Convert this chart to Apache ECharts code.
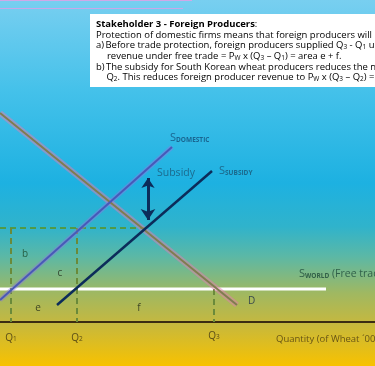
<!DOCTYPE html>
<html><head><meta charset="utf-8">
<script src="https://cdn.jsdelivr.net/npm/echarts@6/dist/echarts.min.js"></script>
<style>html,body{margin:0;padding:0;background:#fff}#c{width:375px;height:366px;}</style>
</head><body><div id="c"></div>
<script>
// ---- Data (chart units: x = quantity, y = price, origin on the quantity axis) ----
const quantityLabels = ['Q1', 'Q2', 'Q3'];
const quantityValues = [11, 77, 214];
const demand = [[0, 209], [237, 17]];
const sDomestic = [[0, 22], [172, 175]];
const sSubsidy = [[57, 17], [212, 151]];
const sWorld = [[0, 33], [326, 33]];
const subsidyPriceLine = [[0, 94], [145, 94]];
const q1Line = [[11, 94], [11, 0]];
const q2Line = [[77, 94], [77, 0]];
const q3Line = [[214, 33], [214, 0]];
const subsidyArrow = [[148, 144], [148, 102]];
const areaNames = ['b', 'c', 'e', 'f'];
const areaPoints = [[25, 68], [60, 49], [38, 14], [139, 14]];
const quantityLabelY = [-15, -15, -13];

const FF = '"Open Sans", "Noto Sans", sans-serif';
const chart = echarts.init(document.getElementById('c'), null, {renderer: 'canvas'});

function lineSeries(data, color, width, type, z) {
  return {type: 'line', data: data, symbol: 'none', silent: true, z: z || 2,
    lineStyle: {color: color, width: width, type: type || 'solid'}, animation: false};
}

// text box lines
const BF = 9.5;
const ctx = document.createElement('canvas').getContext('2d');
ctx.font = BF + 'px "Open Sans"';
const line2 = 'Protection of domestic firms means that foreign producers will';
const sx = 276 / ctx.measureText(line2).width;

const rich = {
  n: {fontSize: BF, fontFamily: FF, color: '#151515', lineHeight: 11, verticalAlign: 'bottom'},
  bd: {fontSize: BF, fontFamily: FF, fontWeight: 'bold', color: '#151515', lineHeight: 11, verticalAlign: 'bottom'},
  sb: {fontSize: 6.5, fontFamily: FF, color: '#151515', lineHeight: 5, verticalAlign: 'bottom'}
};
function tl(x, y, text) {
  return {type: 'text', x: x / sx, y: y, style: {text: text, rich: rich, verticalAlign: 'middle', align: 'left'}};
}
const boxTexts = [
  tl(0, 24, '{bd|Stakeholder 3 - Foreign Producers}{n|:}'),
  tl(0, 34.6, '{n|Protection of domestic firms means that foreign producers will l}'),
  tl(0, 45.2, '{n|a)}'),
  tl(9.5, 45.2, '{n|Before trade protection, foreign producers supplied Q}{sb|3}{n| - Q}{sb|1}{n| u}'),
  tl(11, 55.8, '{n|revenue under free trade = P}{sb|W}{n| x (Q}{sb|3}{n| \u2013 Q}{sb|1}{n|) = area e + f.}'),
  tl(0, 66.4, '{n|b)}'),
  tl(10, 66.4, '{n|The subsidy for South Korean wheat producers reduces the n}'),
  tl(10.5, 77, '{n|Q}{sb|2}{n|. This reduces foreign producer revenue to P}{sb|W}{n| x (Q}{sb|3}{n| \u2013 Q}{sb|2}{n|) =}')
];

const annRich = {
  S: {fontSize: 11, fontFamily: FF, lineHeight: 13, verticalAlign: 'bottom'},
  sc: {fontSize: 6.5, fontFamily: FF, fontWeight: 'bold', lineHeight: 7, verticalAlign: 'bottom'},
  t: {fontSize: 10.5, fontFamily: FF, lineHeight: 13, verticalAlign: 'bottom'},
  q: {fontSize: 10, fontFamily: FF, color: '#3a3010', lineHeight: 12, verticalAlign: 'bottom'},
  qs: {fontSize: 6.5, fontFamily: FF, color: '#3a3010', lineHeight: 6, verticalAlign: 'bottom'}
};
function ann(pt, text, color, fs) {
  return {value: pt, label: {show: true, position: 'right', distance: 0, formatter: text, color: color,
    fontSize: fs || 11, fontFamily: FF, rich: annRich}};
}
function center(pt, text, color, fs) {
  return {value: pt, label: {show: true, position: 'inside', formatter: text, color: color,
    fontSize: fs || 10, fontFamily: FF, rich: annRich}};
}

const annotations = [
  ann([170, 185], '{S|S}{sc|DOMESTIC}', '#14507a'),
  ann([157, 149], 'Subsidy', '#1a5878', 10.5),
  ann([219, 152], '{S|S}{sc|SUBSIDY}', '#1a5878'),
  ann([248, 21], 'D', '#1a2a4a', 10),
  ann([299, 49], '{S|S}{sc|WORLD}{t| (Free trade)}', '#1e4a3a'),
  ann([276, -17], 'Quantity (of Wheat \u00b4000s)', '#4a3a10', 9.5)
];
areaNames.forEach((n, i) => annotations.push(center(areaPoints[i], n, i === 0 ? '#1a4a2a' : '#1e2618', 10)));
quantityLabels.forEach((q, i) => annotations.push(center([quantityValues[i], quantityLabelY[i]],
  '{q|' + q[0] + '}{qs|' + q.slice(1) + '}', '#3a3010', 10)));

const option = {
  animation: false,
  backgroundColor: {type: 'linear', x: 0, y: 0, x2: 0, y2: 1, colorStops: [
    {offset: 0, color: '#78cff0'}, {offset: 0.25, color: '#44c1ea'}, {offset: 0.5, color: '#1db1e1'},
    {offset: 0.62, color: '#30b3cb'}, {offset: 0.70, color: '#5bb8a6'}, {offset: 0.80, color: '#9fb862'},
    {offset: 0.88, color: '#c4b840'}, {offset: 1, color: '#f8c200'}]},
  grid: {left: 0, right: 0, top: 0, bottom: 0, containLabel: false},
  xAxis: {type: 'value', min: 0, max: 375, axisLine: {show: true, onZero: true, lineStyle: {color: '#3b2c12', width: 2}},
    axisTick: {show: false}, axisLabel: {show: false}, splitLine: {show: false}},
  yAxis: {type: 'value', min: -44, max: 322, show: false, splitLine: {show: false}},
  graphic: [
    {type: 'line', shape: {x1: 0, y1: 0.5, x2: 192, y2: 0.5}, style: {stroke: '#d0a8e8', lineWidth: 1}},
    {type: 'line', shape: {x1: 0, y1: 8.5, x2: 183, y2: 8.5}, style: {stroke: '#c8a8e8', lineWidth: 1}},
    {type: 'rect', shape: {x: 90, y: 14, width: 290, height: 73}, style: {fill: '#ffffff'}},
    {type: 'group', x: 96, y: 0, scaleX: sx, children: boxTexts}
  ],
  series: [
    lineSeries(sWorld, '#ffffff', 3, 'solid', 2),
    lineSeries(subsidyPriceLine, '#4f9a48', 2, [6, 4], 2),
    lineSeries(q1Line, '#6a8a3a', 2, [6, 4], 2),
    lineSeries(q2Line, '#6a8a3a', 2, [6, 4], 2),
    lineSeries(q3Line, '#6a8a3a', 2, [6, 4], 2),
    lineSeries(demand, 'rgba(225,125,175,0.5)', 6, 'solid', 3),
    lineSeries(demand, '#807c50', 2, 'solid', 4),
    lineSeries(sDomestic, 'rgba(140,120,225,0.45)', 5, 'solid', 3),
    lineSeries(sDomestic, '#4858b8', 2, 'solid', 4),
    lineSeries(sSubsidy, '#0c2c5a', 2.5, 'solid', 5),
    {type: 'lines', coordinateSystem: 'cartesian2d', symbol: ['arrow', 'arrow'], symbolSize: [10, 11], z: 5,
      lineStyle: {color: '#0c2c5a', width: 3, opacity: 1}, data: [{coords: subsidyArrow}], silent: true},
    {type: 'scatter', data: annotations, symbolSize: 0, z: 6, silent: true}
  ]
};
chart.setOption(option);
</script></body></html>
